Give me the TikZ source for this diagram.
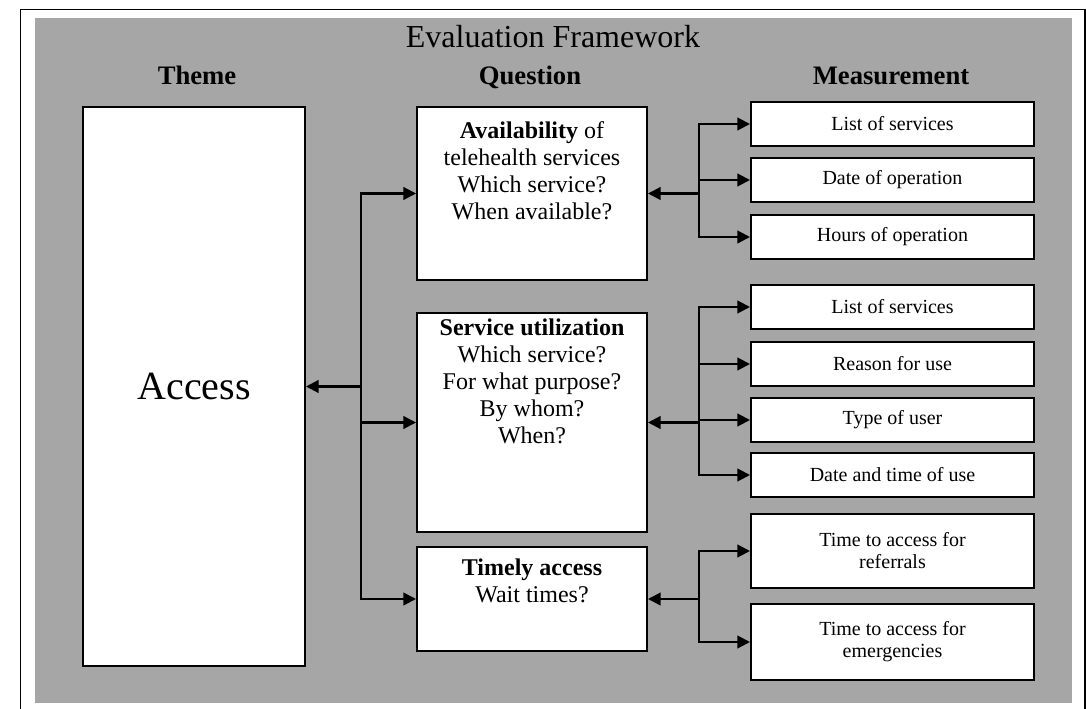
\documentclass[tikz,border=0pt]{standalone}
\usepackage{fontspec}
\setmainfont{Liberation Serif}
\usetikzlibrary{arrows.meta}
\definecolor{panelgray}{RGB}{166,166,166}
\tikzset{
	qbox/.style={draw, fill=white, line width=1.5pt, inner sep=0pt},
	mbox/.style={draw, fill=white, line width=1.5pt, inner sep=0pt, minimum width=283*0.75pt, align=center, font=\fontsize{15}{16.5}\selectfont},
	link/.style={line width=1.6pt, -{Triangle[length=9.5pt,width=9.5pt]}},
	head/.style={anchor=base, font=\fontsize{20}{24}\selectfont\bfseries},
	qtext/.style={anchor=north, align=center, inner sep=0pt, font=\fontsize{18}{20.25}\selectfont}
}
\newcommand{\measbox}[4] % name, centre y in px, height in px, text
{
	\node[mbox, minimum height=#3*0.75pt] (#1) at (892.5,#2) {#4};
}

\begin{document}
\begin{tikzpicture}[x=0.75pt, y=-0.75pt]
	% 1086px x 709px
	\useasboundingbox (0,0) rectangle (1086,709);
	\draw[line width=0.9pt] (20.5,9.5) rectangle (1085,720);
	\fill[panelgray] (35,18) rectangle (1072,703);
	
	\node[anchor=base, font=\fontsize{24}{28}\selectfont] (title) at (553,48) {Evaluation Framework};
	\node[head] (theme) at (197,85) {Theme};
	\node[head] (question) at (530,85) {Question};
	\node[head] (measurement) at (891,85) {Measurement};
	
	\node[qbox, minimum width=222*0.75pt, minimum height=559*0.75pt, font=\fontsize{30}{36}\selectfont] (access) at (194,386.5) {Access};
	
	\node[qbox, minimum width=230*0.75pt, minimum height=173*0.75pt] (avail) at (532,193.5) {};
	\node[qbox, minimum width=230*0.75pt, minimum height=219*0.75pt] (util) at (532,422.5) {};
	\node[qbox, minimum width=230*0.75pt, minimum height=104*0.75pt] (timely) at (532,599) {};
	\node[qtext] (availtxt) at (532,121) {\textbf{Availability} of\\telehealth services\\Which service?\\When available?};
	\node[qtext] (utiltxt) at (532,319) {\textbf{Service utilization}\\Which service?\\For what purpose?\\By whom?\\When?};
	\node[qtext] (timelytxt) at (532,559) {\textbf{Timely access}\\Wait times?};
	
	\measbox{m1}{124}{44}{List of services};
	\measbox{m2}{180}{44}{Date of operation};
	\measbox{m3}{237}{44}{Hours of operation};
	\measbox{m4}{307}{44}{List of services};
	\measbox{m5}{364}{44}{Reason for use};
	\measbox{m6}{420}{44}{Type of user};
	\measbox{m7}{475}{44}{Date and time of use};
	\measbox{m8}{551}{74}{Time to access for\\referrals};
	\measbox{m9}{642}{76}{Time to access for\\emergencies};
	
	% branch points
	\coordinate (hubL) at (361,386.5);
	\coordinate (hubA) at (699,193.5);
	\coordinate (hubU) at (699,422.5);
	\coordinate (hubT) at (699,599);
	
	\draw[link] (hubL) -- (access.east);
	\foreach \q in {avail,util,timely}
		\draw[link] (hubL) |- (\q.west);
	
	\draw[link] (hubA) -- (avail.east);
	\foreach \m in {m1,m2,m3}
		\draw[link] (hubA) |- (\m.west);
	\draw[link] (hubU) -- (util.east);
	\foreach \m in {m4,m5,m6,m7}
		\draw[link] (hubU) |- (\m.west);
	\draw[link] (hubT) -- (timely.east);
	\foreach \m in {m8,m9}
		\draw[link] (hubT) |- (\m.west);
\end{tikzpicture}
\end{document}
